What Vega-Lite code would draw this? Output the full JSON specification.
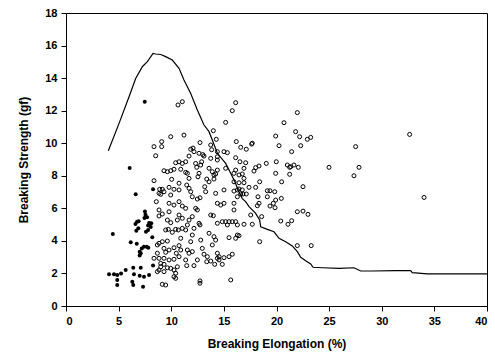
{
  "$schema": "https://vega.github.io/schema/vega-lite/v6.json",
  "width": 421,
  "height": 293,
  "autosize": "none",
  "padding": {"left": 66, "top": 13, "right": 8, "bottom": 48},
  "background": "white",
  "config": {
    "view": {"stroke": "black", "strokeWidth": 1},
    "axis": {
      "grid": false,
      "labelOverlap": false,
      "domainColor": "black",
      "domainWidth": 1,
      "tickColor": "black",
      "tickSize": 5,
      "labelPadding": 4,
      "labelFont": "Liberation Sans",
      "labelFontWeight": "bold",
      "labelFontSize": 11,
      "labelColor": "black",
      "titleFont": "Liberation Sans",
      "titleFontWeight": "bold",
      "titleFontSize": 12,
      "titleColor": "black"
    }
  },
  "datasets": {
    "curve": [
      {"e": 4.02, "s": 9.54}, {"e": 5.04, "s": 11.22}, {"e": 5.99, "s": 12.86}, {"e": 6.62, "s": 13.98},
      {"e": 7.25, "s": 14.7}, {"e": 7.73, "s": 15.01}, {"e": 8.27, "s": 15.52}, {"e": 8.52, "s": 15.48},
      {"e": 9.0, "s": 15.45}, {"e": 9.47, "s": 15.32}, {"e": 10.1, "s": 15.11}, {"e": 10.74, "s": 14.6},
      {"e": 11.21, "s": 13.88}, {"e": 11.85, "s": 13.06}, {"e": 12.48, "s": 12.04}, {"e": 13.11, "s": 11.12},
      {"e": 13.59, "s": 10.71}, {"e": 13.9, "s": 10.2}, {"e": 14.38, "s": 9.38}, {"e": 15.17, "s": 8.76},
      {"e": 15.65, "s": 8.15}, {"e": 16.0, "s": 7.7}, {"e": 16.44, "s": 7.0}, {"e": 16.75, "s": 6.6},
      {"e": 17.07, "s": 6.41}, {"e": 17.39, "s": 6.1}, {"e": 18.02, "s": 5.69}, {"e": 18.4, "s": 5.28},
      {"e": 18.5, "s": 4.87}, {"e": 19.13, "s": 4.71}, {"e": 19.76, "s": 4.56}, {"e": 20.24, "s": 4.16},
      {"e": 20.87, "s": 3.95}, {"e": 21.5, "s": 3.69}, {"e": 21.98, "s": 3.34}, {"e": 22.3, "s": 2.99},
      {"e": 22.77, "s": 2.78}, {"e": 23.25, "s": 2.58}, {"e": 23.47, "s": 2.38}, {"e": 24.36, "s": 2.35},
      {"e": 25.94, "s": 2.31}, {"e": 27.36, "s": 2.35}, {"e": 28.0, "s": 2.15}, {"e": 29.1, "s": 2.15},
      {"e": 31.33, "s": 2.17}, {"e": 32.75, "s": 2.17}, {"e": 32.9, "s": 2.05}, {"e": 34.33, "s": 1.97},
      {"e": 40.0, "s": 1.97}
    ],
    "filled": [
      {"e": 4.09, "s": 1.95}, {"e": 4.56, "s": 1.95}, {"e": 4.87, "s": 1.9}, {"e": 5.23, "s": 2.0},
      {"e": 4.87, "s": 1.29}, {"e": 4.87, "s": 1.6}, {"e": 5.67, "s": 2.21}, {"e": 6.39, "s": 2.35}, {"e": 7.1, "s": 2.35},
      {"e": 6.46, "s": 1.95}, {"e": 7.0, "s": 1.86}, {"e": 6.3, "s": 1.49}, {"e": 6.39, "s": 1.29},
      {"e": 7.41, "s": 1.8}, {"e": 7.89, "s": 1.9}, {"e": 7.32, "s": 1.18}, {"e": 8.27, "s": 2.49},
      {"e": 4.45, "s": 4.42}, {"e": 6.15, "s": 3.91}, {"e": 6.72, "s": 3.83}, {"e": 8.2, "s": 4.22},
      {"e": 7.1, "s": 3.24}, {"e": 7.0, "s": 3.1}, {"e": 7.0, "s": 3.34}, {"e": 7.2, "s": 3.54}, {"e": 7.4, "s": 3.64},
      {"e": 7.67, "s": 3.64}, {"e": 7.82, "s": 3.58}, {"e": 6.05, "s": 8.48}, {"e": 6.62, "s": 6.86},
      {"e": 8.27, "s": 7.17}, {"e": 7.5, "s": 5.8}, {"e": 7.55, "s": 5.6}, {"e": 7.45, "s": 5.4},
      {"e": 7.9, "s": 5.1}, {"e": 8.05, "s": 4.85}, {"e": 7.8, "s": 4.67}, {"e": 7.6, "s": 4.56},
      {"e": 6.87, "s": 4.77}, {"e": 6.68, "s": 4.62}, {"e": 7.48, "s": 12.55}, {"e": 6.6, "s": 5.04},
      {"e": 6.75, "s": 5.17}, {"e": 6.9, "s": 5.2}, {"e": 7.7, "s": 5.45}, {"e": 7.8, "s": 4.94},
      {"e": 8.1, "s": 5.08}
    ],
    "open": [
      {"e": 8.36, "s": 9.79}, {"e": 9.09, "s": 9.79}, {"e": 9.09, "s": 10.1}, {"e": 8.52, "s": 9.23},
      {"e": 10.42, "s": 8.8}, {"e": 10.74, "s": 8.86}, {"e": 11.05, "s": 8.76}, {"e": 9.31, "s": 8.31},
      {"e": 9.63, "s": 8.25}, {"e": 9.95, "s": 8.31}, {"e": 10.26, "s": 8.4}, {"e": 10.9, "s": 8.4},
      {"e": 8.36, "s": 7.7}, {"e": 10.04, "s": 7.78}, {"e": 10.74, "s": 7.54}, {"e": 8.9, "s": 7.17},
      {"e": 9.15, "s": 7.17}, {"e": 8.84, "s": 6.92}, {"e": 9.0, "s": 6.86}, {"e": 9.31, "s": 7.02},
      {"e": 9.79, "s": 7.29}, {"e": 9.95, "s": 6.82}, {"e": 10.26, "s": 7.17}, {"e": 10.74, "s": 7.13},
      {"e": 8.58, "s": 6.41}, {"e": 9.79, "s": 6.31}, {"e": 10.74, "s": 6.41}, {"e": 10.26, "s": 6.2},
      {"e": 11.05, "s": 6.14}, {"e": 8.84, "s": 5.9}, {"e": 9.15, "s": 5.65}, {"e": 8.84, "s": 5.53},
      {"e": 9.79, "s": 5.79}, {"e": 10.74, "s": 5.59}, {"e": 10.58, "s": 5.28}, {"e": 11.05, "s": 5.39},
      {"e": 9.63, "s": 5.28}, {"e": 9.95, "s": 5.12}, {"e": 9.72, "s": 4.71}, {"e": 10.42, "s": 4.71},
      {"e": 11.05, "s": 4.77}, {"e": 10.64, "s": 12.35}, {"e": 11.05, "s": 12.55}, {"e": 11.21, "s": 10.5},
      {"e": 9.95, "s": 10.4},
      {"e": 9.47, "s": 4.67}, {"e": 10.1, "s": 4.53}, {"e": 10.67, "s": 4.67}, {"e": 10.9, "s": 4.16},
      {"e": 9.63, "s": 3.99}, {"e": 9.15, "s": 3.95}, {"e": 8.84, "s": 3.85}, {"e": 8.68, "s": 3.75},
      {"e": 9.31, "s": 3.54}, {"e": 9.79, "s": 3.44}, {"e": 10.26, "s": 3.58}, {"e": 10.74, "s": 3.71},
      {"e": 10.9, "s": 3.44}, {"e": 10.48, "s": 3.24}, {"e": 9.47, "s": 3.3}, {"e": 8.68, "s": 3.24},
      {"e": 8.36, "s": 2.93}, {"e": 8.84, "s": 2.93}, {"e": 9.31, "s": 2.93}, {"e": 9.79, "s": 2.83},
      {"e": 10.26, "s": 2.87}, {"e": 10.74, "s": 3.03}, {"e": 9.0, "s": 2.62}, {"e": 9.31, "s": 2.56},
      {"e": 9.0, "s": 2.41}, {"e": 9.63, "s": 2.35}, {"e": 9.95, "s": 2.31}, {"e": 10.26, "s": 2.21},
      {"e": 10.58, "s": 2.41}, {"e": 8.84, "s": 2.21}, {"e": 10.42, "s": 2.01}, {"e": 10.26, "s": 1.8},
      {"e": 10.42, "s": 1.7}, {"e": 9.15, "s": 1.33}, {"e": 9.47, "s": 1.29}, {"e": 8.68, "s": 2.11},
      {"e": 9.31, "s": 2.11},
      {"e": 16.12, "s": 12.49}, {"e": 15.8, "s": 12.0}, {"e": 15.17, "s": 11.28}, {"e": 14.0, "s": 10.77},
      {"e": 14.28, "s": 10.24}, {"e": 16.18, "s": 10.1}, {"e": 12.73, "s": 10.04}, {"e": 13.75, "s": 9.89},
      {"e": 11.85, "s": 9.63}, {"e": 12.16, "s": 9.48}, {"e": 12.64, "s": 9.38}, {"e": 13.11, "s": 9.21},
      {"e": 11.69, "s": 9.21}, {"e": 13.75, "s": 9.07}, {"e": 14.38, "s": 9.17}, {"e": 15.01, "s": 9.48},
      {"e": 15.33, "s": 9.42}, {"e": 16.12, "s": 9.11}, {"e": 14.38, "s": 8.35}, {"e": 13.9, "s": 8.25},
      {"e": 14.22, "s": 8.11}, {"e": 12.42, "s": 8.52}, {"e": 12.8, "s": 8.66}, {"e": 11.53, "s": 8.15},
      {"e": 16.12, "s": 8.35}, {"e": 11.37, "s": 8.86}, {"e": 11.37, "s": 8.21}, {"e": 12.32, "s": 8.76},
      {"e": 12.89, "s": 8.86}, {"e": 14.38, "s": 8.97}, {"e": 15.17, "s": 8.46}, {"e": 13.84, "s": 9.6},
      {"e": 14.38, "s": 9.48}, {"e": 14.06, "s": 8.05}, {"e": 13.59, "s": 8.46}, {"e": 12.64, "s": 8.15},
      {"e": 15.96, "s": 8.15}, {"e": 12.07, "s": 9.7}, {"e": 13.0, "s": 9.3},
      {"e": 11.69, "s": 7.84}, {"e": 12.54, "s": 7.94}, {"e": 13.37, "s": 7.8}, {"e": 13.59, "s": 7.63},
      {"e": 14.06, "s": 7.8}, {"e": 13.18, "s": 7.33}, {"e": 13.27, "s": 7.02}, {"e": 14.22, "s": 6.92},
      {"e": 11.47, "s": 7.43}, {"e": 11.69, "s": 7.23}, {"e": 11.85, "s": 7.02}, {"e": 12.0, "s": 6.71},
      {"e": 12.48, "s": 6.57}, {"e": 12.73, "s": 6.65}, {"e": 11.37, "s": 6.0}, {"e": 12.32, "s": 6.0},
      {"e": 12.48, "s": 5.9}, {"e": 12.0, "s": 5.49}, {"e": 11.69, "s": 5.28}, {"e": 11.53, "s": 4.98},
      {"e": 12.16, "s": 4.77}, {"e": 12.64, "s": 5.08}, {"e": 12.73, "s": 4.98}, {"e": 11.37, "s": 4.67},
      {"e": 12.0, "s": 4.36}, {"e": 12.8, "s": 4.05}, {"e": 11.85, "s": 3.95}, {"e": 11.53, "s": 3.44},
      {"e": 11.69, "s": 3.24}, {"e": 12.0, "s": 3.34}, {"e": 13.59, "s": 4.47}, {"e": 14.06, "s": 4.26},
      {"e": 14.22, "s": 4.05}, {"e": 13.9, "s": 3.75}, {"e": 14.38, "s": 3.24}, {"e": 14.54, "s": 3.03},
      {"e": 15.01, "s": 2.97}, {"e": 15.49, "s": 3.03}, {"e": 15.8, "s": 3.18}, {"e": 16.12, "s": 4.16},
      {"e": 15.49, "s": 4.2}, {"e": 14.7, "s": 6.2}, {"e": 15.01, "s": 6.31}, {"e": 14.38, "s": 6.31},
      {"e": 13.75, "s": 5.59}, {"e": 14.0, "s": 5.55}, {"e": 14.85, "s": 5.18}, {"e": 15.17, "s": 5.18},
      {"e": 15.49, "s": 5.18}, {"e": 15.8, "s": 5.18}, {"e": 16.12, "s": 5.18}, {"e": 15.33, "s": 4.98},
      {"e": 16.28, "s": 4.98}, {"e": 15.96, "s": 5.9}, {"e": 15.96, "s": 6.31}, {"e": 16.28, "s": 7.13},
      {"e": 16.28, "s": 6.71}, {"e": 15.96, "s": 7.63}, {"e": 15.01, "s": 7.13}, {"e": 15.96, "s": 7.06},
      {"e": 16.28, "s": 4.36}, {"e": 14.38, "s": 5.08}, {"e": 12.95, "s": 3.54}, {"e": 13.11, "s": 3.18},
      {"e": 13.43, "s": 3.03}, {"e": 13.75, "s": 2.76}, {"e": 12.48, "s": 2.83}, {"e": 14.38, "s": 2.93},
      {"e": 11.37, "s": 2.83},
      {"e": 11.47, "s": 2.48}, {"e": 12.16, "s": 2.48}, {"e": 13.37, "s": 2.72}, {"e": 14.13, "s": 2.56},
      {"e": 14.54, "s": 2.83}, {"e": 14.85, "s": 2.56}, {"e": 12.73, "s": 1.54}, {"e": 12.73, "s": 1.4}, {"e": 15.65, "s": 1.6},
      {"e": 16.44, "s": 7.57}, {"e": 16.91, "s": 7.57}, {"e": 17.39, "s": 7.29}, {"e": 18.02, "s": 7.29},
      {"e": 18.4, "s": 7.63}, {"e": 20.49, "s": 7.63}, {"e": 22.52, "s": 7.33}, {"e": 19.13, "s": 7.08},
      {"e": 19.38, "s": 7.08}, {"e": 19.83, "s": 7.02}, {"e": 16.6, "s": 6.88}, {"e": 16.82, "s": 6.88},
      {"e": 17.13, "s": 6.88}, {"e": 16.44, "s": 7.19}, {"e": 18.24, "s": 6.71}, {"e": 19.13, "s": 6.71},
      {"e": 19.92, "s": 6.51}, {"e": 20.46, "s": 6.61}, {"e": 19.7, "s": 6.31}, {"e": 19.38, "s": 6.14},
      {"e": 19.86, "s": 6.04}, {"e": 18.34, "s": 6.31}, {"e": 18.18, "s": 6.16}, {"e": 17.55, "s": 5.59},
      {"e": 18.59, "s": 5.49}, {"e": 21.98, "s": 5.79}, {"e": 22.52, "s": 5.83}, {"e": 22.99, "s": 5.63},
      {"e": 20.4, "s": 5.22}, {"e": 21.44, "s": 5.24}, {"e": 21.09, "s": 5.02}, {"e": 17.7, "s": 5.02},
      {"e": 16.91, "s": 5.02}, {"e": 18.4, "s": 3.95}, {"e": 21.98, "s": 3.71}, {"e": 23.3, "s": 3.71},
      {"e": 34.02, "s": 6.67}, {"e": 16.44, "s": 4.32}, {"e": 16.91, "s": 7.84}, {"e": 16.75, "s": 7.13},
      {"e": 21.98, "s": 11.88}, {"e": 20.71, "s": 11.26}, {"e": 21.82, "s": 10.71}, {"e": 22.2, "s": 10.4},
      {"e": 22.93, "s": 10.24}, {"e": 23.25, "s": 10.36}, {"e": 19.92, "s": 10.44}, {"e": 20.24, "s": 9.85},
      {"e": 22.3, "s": 9.85}, {"e": 21.44, "s": 9.48}, {"e": 27.52, "s": 9.79}, {"e": 32.65, "s": 10.54},
      {"e": 17.64, "s": 9.95}, {"e": 17.13, "s": 9.63}, {"e": 16.6, "s": 9.75}, {"e": 17.07, "s": 8.8},
      {"e": 19.98, "s": 8.86}, {"e": 19.03, "s": 8.76}, {"e": 21.03, "s": 8.66}, {"e": 21.35, "s": 8.56},
      {"e": 21.66, "s": 8.66}, {"e": 22.07, "s": 8.52}, {"e": 21.25, "s": 8.52}, {"e": 24.99, "s": 8.52},
      {"e": 27.84, "s": 8.52}, {"e": 27.36, "s": 8.0}, {"e": 19.92, "s": 8.15}, {"e": 21.25, "s": 8.09},
      {"e": 18.34, "s": 8.6}, {"e": 18.02, "s": 8.5}, {"e": 17.86, "s": 8.29}, {"e": 16.91, "s": 8.46},
      {"e": 16.75, "s": 8.11}, {"e": 16.44, "s": 8.05}, {"e": 17.7, "s": 10.0}, {"e": 16.53, "s": 8.86}
    ]
  },
  "encoding": {
    "x": {"field": "e", "type": "quantitative", "scale": {"domain": [0, 40], "nice": false},
          "axis": {"values": [0, 5, 10, 15, 20, 25, 30, 35, 40], "labelOverlap": false, "title": "Breaking Elongation (%)", "titlePadding": 12}},
    "y": {"field": "s", "type": "quantitative", "scale": {"domain": [0, 18], "nice": false},
          "axis": {"values": [0, 2, 4, 6, 8, 10, 12, 14, 16, 18], "labelOverlap": false, "title": "Breaking Strength (gf)", "titlePadding": 14}}
  },
  "layer": [
    {
      "data": {"name": "curve"},
      "mark": {"type": "line", "color": "black", "strokeWidth": 1.2}
    },
    {
      "data": {"name": "open"},
      "mark": {"type": "point", "shape": "circle", "filled": false, "stroke": "black", "strokeWidth": 1, "size": 16, "opacity": 1}
    },
    {
      "data": {"name": "filled"},
      "mark": {"type": "circle", "color": "black", "size": 16, "opacity": 1}
    }
  ]
}
